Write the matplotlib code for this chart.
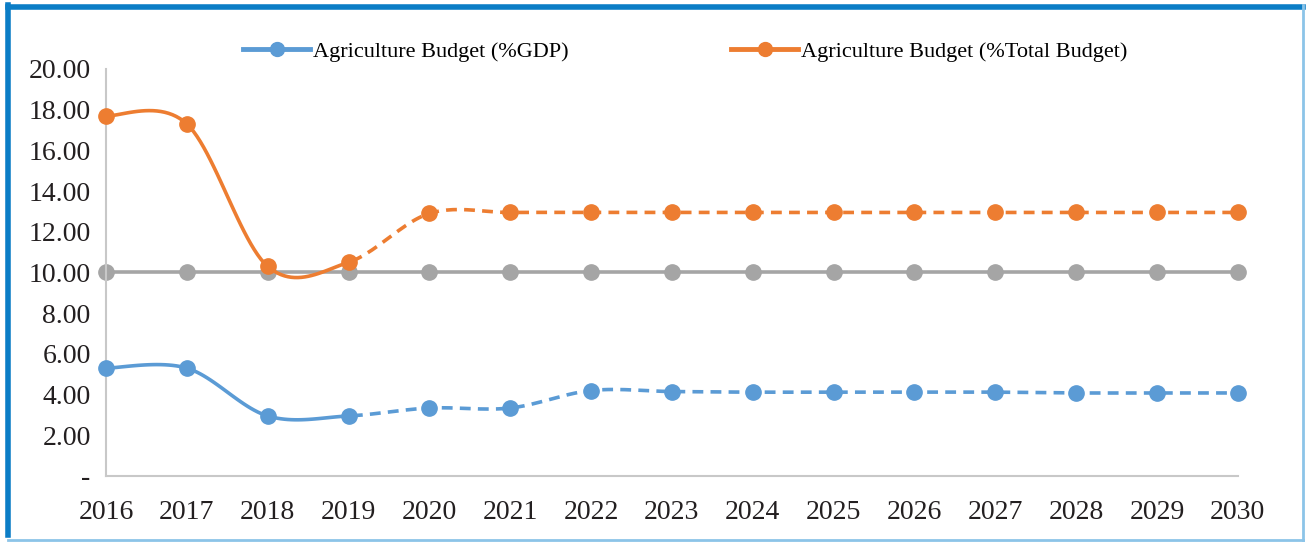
import numpy as np
import matplotlib.pyplot as plt
from matplotlib.lines import Line2D
from matplotlib.ticker import FuncFormatter

years = list(range(2016, 2031))
gdp_share = [5.30, 5.30, 2.95, 2.95, 3.34, 3.34, 4.20, 4.15, 4.12, 4.12, 4.12, 4.12, 4.08, 4.08, 4.08]
budget_share = [17.70, 17.30, 10.30, 10.50, 12.90, 12.95, 12.95, 12.95, 12.95, 12.95, 12.95, 12.95, 12.95, 12.95, 12.95]
reference = [10.0] * 15
split_year = 2019

blue = '#5b9bd5'
orange = '#ed7d31'
gray = '#a5a5a5'

plt.rcParams['font.family'] = ['Liberation Serif', 'DejaVu Serif']


def smooth(x, y, n=24):
    # Excel style smoothed line: cubic bezier with catmull-rom control points
    x = np.asarray(x, float)
    y = np.asarray(y, float)
    px, py = [], []
    for i in range(len(x) - 1):
        x0, y0 = (x[i - 1], y[i - 1]) if i > 0 else (x[i], y[i])
        x3, y3 = (x[i + 2], y[i + 2]) if i + 2 < len(x) else (x[i + 1], y[i + 1])
        c1 = (x[i] + (x[i + 1] - x0) / 6, y[i] + (y[i + 1] - y0) / 6)
        c2 = (x[i + 1] - (x3 - x[i]) / 6, y[i + 1] - (y3 - y[i]) / 6)
        t = np.linspace(0, 1, n, endpoint=(i == len(x) - 2))
        a, b, c, d = (1 - t) ** 3, 3 * t * (1 - t) ** 2, 3 * t ** 2 * (1 - t), t ** 3
        px.append(a * x[i] + b * c1[0] + c * c2[0] + d * x[i + 1])
        py.append(a * y[i] + b * c1[1] + c * c2[1] + d * y[i + 1])
    return np.concatenate(px), np.concatenate(py)


fig = plt.figure(figsize=(13.07, 5.42), dpi=100)
ax = fig.add_axes([0.0811, 0.1218, 0.8660, 0.7509])

ax.plot(years, reference, color=gray, lw=2.6, marker='o', ms=11, clip_on=False, zorder=2)

for vals, col in [(gdp_share, blue), (budget_share, orange)]:
    sx, sy = smooth(years, vals)
    solid = sx <= split_year
    ax.plot(sx[solid], sy[solid], color=col, lw=2.6, clip_on=False, zorder=3)
    ax.plot(sx[~solid], sy[~solid], color=col, lw=2.6, ls=(0, (3, 2)), clip_on=False, zorder=3)
    ax.plot(years, vals, ls='none', marker='o', ms=11, color=col, clip_on=False, zorder=4)

ax.set_xlim(2016, 2030)
ax.set_ylim(0, 20)
ax.set_xticks(years)
ax.set_yticks(np.arange(0, 21, 2))
ax.yaxis.set_major_formatter(FuncFormatter(lambda v, p: '-' if v == 0 else '%.2f' % v))
ax.tick_params(axis='y', length=0, pad=11, labelsize=20, colors='#231f20')
ax.tick_params(axis='x', length=0, pad=17, labelsize=20, colors='#231f20')
for s in ['top', 'right']:
    ax.spines[s].set_visible(False)
for s in ['left', 'bottom']:
    ax.spines[s].set_color('#c8c8c8')
    ax.spines[s].set_linewidth(1.5)

handles = [Line2D([], [], color=blue, lw=3.5, marker='o', ms=10),
           Line2D([], [], color=orange, lw=3.5, marker='o', ms=10)]
fig.legend(handles, ['Agriculture Budget (%GDP)', 'Agriculture Budget (%Total Budget)'],
           loc='center', bbox_to_anchor=(0.5245, 0.905), ncol=2, frameon=False,
           fontsize=16, handlelength=3.0, handletextpad=0.15, columnspacing=7.3)

# blue frame around the figure
fig.add_artist(Line2D([0.006, 0.006], [0.012, 0.99], color='#0b7dc6', lw=4, transform=fig.transFigure))
fig.add_artist(Line2D([0.006, 0.997], [0.988, 0.988], color='#0b7dc6', lw=4, transform=fig.transFigure))
fig.add_artist(Line2D([0.997, 0.997], [0.0, 0.99], color='#8cc4e8', lw=2, transform=fig.transFigure))
fig.add_artist(Line2D([0.006, 0.997], [0.004, 0.004], color='#8cc4e8', lw=2, transform=fig.transFigure))

fig.savefig('out.png', dpi=100)
